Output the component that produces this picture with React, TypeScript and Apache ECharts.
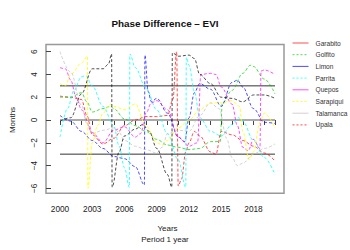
import React, { useEffect, useRef } from "react";
import * as echarts from "echarts";

const seriesNames = ["Garabito", "Golfito", "Limon", "Parrita", "Quepos", "Sarapiqui", "Talamanca", "Upala"];

const garabito: [number, number][] = [[2000,2.1],[2001,2.0],[2002,1.8],[2002.5,0.4],[2003,-1.3],[2004,-2.1],[2005,-1.6],[2006,-0.5],[2007,0],[2008,0.3],[2009,0.3],[2010,0.4],[2010.5,1.8],[2010.85,6.0],[2011.0,-5.8],[2011.3,-5.2],[2011.7,-2.8],[2012,-2.0],[2012.5,-1.0],[2013,-1.4],[2014,-2.8],[2014.5,-3.0],[2015,-1.0],[2016,-1.3],[2017,-1.8],[2018,-2.3],[2019,-2.9],[2020,-3.6]];
const golfito: [number, number][] = [[2000,2.0],[2001,2.0],[2002,2.4],[2002.5,1.6],[2003,0.7],[2004,1.0],[2004.7,1.2],[2005,1.0],[2006,0.1],[2007,-0.5],[2008,-1.0],[2009,-1.7],[2010,-2.2],[2011,-2.4],[2012,-2.6],[2013,-2.5],[2014,-1.9],[2014.9,-1.9],[2015.1,1.5],[2016,2.6],[2017,4.1],[2017.7,4.8],[2018,4.7],[2019,3.6],[2020,2.3]];
const limon: [number, number][] = [[2000,0.4],[2001,-0.1],[2002,-1.0],[2003,-1.8],[2004,-2.5],[2005,-3.2],[2006,-3.4],[2007,-4.1],[2007.85,-5.7],[2007.9,5.7],[2008.2,2.5],[2008.5,1.6],[2009,1.9],[2010,0.6],[2011,-1.5],[2011.6,-1.9],[2012,0.2],[2012.5,2.4],[2013,3.2],[2014,2.7],[2015,1.2],[2016,3.3],[2016.5,3.5],[2017,2.9],[2018,1.0],[2019,-0.2],[2020,-0.3]];
const parrita: [number, number][] = [[2000,-1.5],[2000.7,1.0],[2001.3,2.6],[2002,3.8],[2002.4,3.9],[2003,3.0],[2004,1.2],[2005,-0.5],[2005.5,-2.3],[2006,-4.2],[2006.45,-5.9],[2006.5,5.8],[2007,4.6],[2008,2.8],[2009,0.9],[2010,-1.2],[2011,-3.5],[2011.7,-5.9],[2011.75,5.5],[2012,4.8],[2012.5,2.5],[2013,0.2],[2014,-1.0],[2015,-1.4],[2016,-0.4],[2016.6,0.2],[2017,-0.1],[2018,-1.8],[2019,-3.3],[2020,-4.8]];
const quepos: [number, number][] = [[2000,4.6],[2000.5,4.5],[2001,3.5],[2001.5,2.0],[2002,0.9],[2003,-1.1],[2004,-2.0],[2005,-0.9],[2006,-0.6],[2007,-1.5],[2007.5,-1.2],[2008,0.6],[2008.5,1.5],[2009,1.7],[2010,0.9],[2011,-1.5],[2012,-2.3],[2012.8,-2.0],[2013.1,4.0],[2014,4.1],[2014.5,4.0],[2015,2.9],[2016,1.4],[2016.5,-0.5],[2017,-2.4],[2017.5,-2.7],[2018,-1.7],[2018.6,-2.5],[2018.7,4.3],[2019,4.4],[2020,4.0]];
const sarapiqui: [number, number][] = [[2000,3.2],[2000.5,3.0],[2001,4.0],[2002,5.0],[2002.55,5.6],[2002.6,-6.0],[2003,-2.0],[2003.5,-0.5],[2004,0.6],[2004.7,1.4],[2005,1.2],[2006,0.9],[2007,1.4],[2008,-0.5],[2009,-2.0],[2009.5,-2.2],[2010,-1.8],[2011,-0.7],[2012,0],[2013,0.9],[2014,1.5],[2015,1.5],[2016,1.7],[2016.7,1.2],[2017,-1.0],[2017.6,-3.5],[2018,-2.8],[2018.6,-0.2],[2019,0.6],[2020,-0.7]];
const talamanca: [number, number][] = [[2000,6.0],[2001,4.2],[2002,1.3],[2002.5,-0.3],[2003,-1.2],[2004,-0.9],[2005,-0.7],[2005.5,-1.1],[2006,-1.8],[2007,-2.3],[2008,-2.6],[2009,-2.9],[2009.5,-2.4],[2010,-1.2],[2011,-0.9],[2012,-1.0],[2013,0.4],[2014,1.5],[2014.8,1.0],[2015.5,-1.6],[2016,-3.3],[2016.5,-4.0],[2017,-3.8],[2018,-3.0],[2019,-2.5],[2020,-2.1]];
const upala: [number, number][] = [[2000,-0.1],[2001,0.2],[2002,2.3],[2003,4.5],[2004,4.5],[2004.5,4.9],[2004.8,5.8],[2004.85,-5.9],[2005.5,-2.8],[2006,-1.4],[2007,-0.8],[2007.7,-0.4],[2008.3,-1.0],[2009,-2.5],[2010,-4.8],[2010.4,-5.9],[2010.45,5.9],[2011,5.6],[2012,5.7],[2012.5,5.4],[2013,4.0],[2014,3.2],[2015,2.0],[2016,1.9],[2017,1.6],[2018,2.2],[2019,2.2],[2020,1.9]];

const seriesData = [garabito, golfito, limon, parrita, quepos, sarapiqui, talamanca, upala];
const plotColors = ["rgba(255,0,0,0.7)", "rgba(0,205,0,0.7)", "rgba(0,0,255,0.7)", "rgba(0,255,255,0.75)", "rgba(255,0,255,0.7)", "rgba(255,255,0,0.85)", "rgba(190,190,190,0.7)", "rgba(0,0,0,0.7)"];
const legendColors = ["rgba(255,0,0,0.7)", "rgba(0,205,0,0.7)", "rgba(0,0,255,0.7)", "rgba(0,255,255,0.75)", "rgba(255,0,255,0.7)", "rgba(255,255,0,0.85)", "rgba(190,190,190,0.7)", "rgba(255,0,0,0.7)"];
const legendDashed = [false, true, false, true, false, true, false, true];

const refLevels = [3, 0, -3];
const refColors = ["#333333", "#aaaaaa", "#333333"];
const refWidths = [1, 2, 1];
const xRange = [2000, 2020];
const labelYears = [2000, 2003, 2006, 2009, 2012, 2015, 2018];

const FONT = "Liberation Sans, Arial, sans-serif";

export default function App() {
  const ref = useRef<HTMLDivElement>(null);
  useEffect(() => {
    document.body.style.margin = "0";
    const chart = echarts.init(ref.current!, null, { renderer: "svg" });
    const refSeries = refLevels.map((lv, i) => ({
      type: "line",
      name: "ref" + i,
      data: [[xRange[0], lv], [xRange[1], lv]],
      symbol: "none",
      silent: true,
      lineStyle: { color: refColors[i], width: refWidths[i], type: "solid" },
      z: 1,
    }));
    const dataSeries = seriesNames.map((n, i) => ({
      type: "line",
      name: n,
      data: seriesData[i],
      symbol: "none",
      smooth: 0.35,
      smoothMonotone: "x",
      clip: false,
      color: plotColors[i],
      lineStyle: { color: plotColors[i], width: 1, type: [3, 2] },
      z: 2,
    }));
    chart.setOption({
      animation: false,
      textStyle: { fontFamily: FONT },
      grid: { left: 55, right: 75, top: 51.7, bottom: 61.7 },
      xAxis: {
        type: "value",
        min: 2000,
        max: 2020,
        interval: 1,
        offset: 5,
        axisLine: { show: false },
        axisTick: { show: true, length: 5, lineStyle: { color: "#444", width: 1 } },
        axisLabel: {
          margin: 12,
          fontSize: 8.3,
          color: "#222",
          fontFamily: FONT,
          showMinLabel: true,
          showMaxLabel: true,
          formatter: (v: number) => (labelYears.includes(v) ? String(v) : ""),
        },
        splitLine: { show: false },
        name: "Years",
        nameLocation: "middle",
        nameGap: 31,
        nameTextStyle: { fontSize: 8, color: "#222", fontFamily: FONT },
      },
      yAxis: {
        type: "value",
        min: -6,
        max: 6,
        interval: 2,
        offset: 9,
        axisLine: { show: false },
        axisTick: { show: true, length: 5, lineStyle: { color: "#444", width: 1 } },
        axisLabel: {
          rotate: 90,
          margin: 13,
          fontSize: 8.3,
          color: "#222",
          fontFamily: FONT,
          formatter: (v: number) => (v < 0 ? "\u2212" + Math.abs(v) : String(v)),
        },
        splitLine: { show: false },
        name: "Months",
        nameLocation: "middle",
        nameRotate: 90,
        nameGap: 35,
        nameTextStyle: { fontSize: 8, color: "#222", fontFamily: FONT },
      },
      legend: {
        orient: "vertical",
        left: 292,
        top: 39,
        padding: 0,
        itemWidth: 16,
        itemHeight: 10,
        itemGap: 3.7,
        textStyle: { fontSize: 6.6, color: "#333", fontFamily: FONT, padding: [0, 0, 0, 2] },
        data: seriesNames.map((n, i) => ({
          name: n,
          lineStyle: { color: legendColors[i], width: 1, type: legendDashed[i] ? [2, 2] : "solid" },
          itemStyle: { color: "rgba(0,0,0,0)", borderWidth: 0, opacity: 0 },
        })),
      },
      graphic: [
        {
          type: "text",
          x: 165,
          y: 23,
          style: { text: "Phase Difference \u2013 EVI", font: "bold 9.9px " + FONT, fill: "#111", align: "center", verticalAlign: "middle" },
        },
        {
          type: "text",
          x: 165,
          y: 239,
          style: { text: "Period 1 year", font: "8px " + FONT, fill: "#222", align: "center", verticalAlign: "middle" },
        },
        {
          type: "rect",
          shape: { x: 46, y: 44.5, width: 238, height: 148.8 },
          style: { fill: "none", stroke: "#999", lineWidth: 1.5 },
          silent: true,
        },
      ],
      series: [...refSeries, ...dataSeries],
    });
    return () => chart.dispose();
  }, []);
  return <div ref={ref} style={{ width: 350, height: 250 }} />;
}
